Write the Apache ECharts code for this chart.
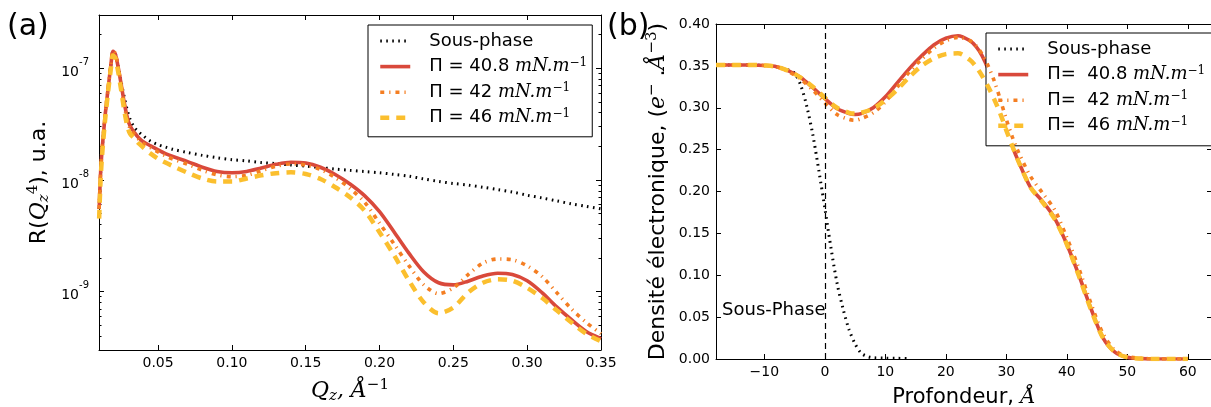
<!DOCTYPE html>
<html><head><meta charset="utf-8">
<script src="https://cdn.jsdelivr.net/npm/echarts@6/dist/echarts.min.js"></script>
<style>html,body{margin:0;padding:0;background:#fff}#c{width:1211px;height:407px}</style>
</head><body><div id="c"></div><script>
// ---------- Panel (a): reflectivity R*Qz^4 (log scale) ----------
const qz = [0.0101,0.011,0.012,0.014,0.016,0.018,0.0195,0.021,0.023,0.025,0.027,0.029,0.031,0.034,0.037,0.04,0.045,0.05,0.055,0.06,0.07,0.08,0.09,0.10,0.11,0.12,0.13,0.14,0.15,0.16,0.17,0.18,0.19,0.20,0.21,0.22,0.23,0.24,0.25,0.26,0.27,0.28,0.29,0.30,0.31,0.32,0.33,0.34,0.35];
const rSousPhase = [5.5e-9,1.1e-8,1.8e-8,3.6e-8,6.3e-8,1.05e-7,1.42e-7,1.36e-7,1.05e-7,7.6e-8,5.6e-8,4.3e-8,3.5e-8,2.95e-8,2.68e-8,2.48e-8,2.22e-8,2.07e-8,1.97e-8,1.88e-8,1.76e-8,1.66e-8,1.58e-8,1.52e-8,1.48e-8,1.43e-8,1.4e-8,1.36e-8,1.33e-8,1.29e-8,1.25e-8,1.22e-8,1.19e-8,1.16e-8,1.12e-8,1.08e-8,1.02e-8,9.7e-9,9.3e-9,9.0e-9,8.6e-9,8.2e-9,7.8e-9,7.3e-9,6.9e-9,6.5e-9,6.1e-9,5.8e-9,5.5e-9];
const r408 = [5.5e-9,1.1e-8,1.8e-8,3.6e-8,6.3e-8,1.05e-7,1.42e-7,1.35e-7,1.02e-7,7.2e-8,5.0e-8,3.7e-8,3.05e-8,2.65e-8,2.38e-8,2.2e-8,2.02e-8,1.86e-8,1.72e-8,1.62e-8,1.46e-8,1.3e-8,1.19e-8,1.16e-8,1.19e-8,1.28e-8,1.38e-8,1.44e-8,1.42e-8,1.3e-8,1.12e-8,9.2e-9,7.2e-9,5.2e-9,3.4e-9,2.2e-9,1.5e-9,1.2e-9,1.15e-9,1.24e-9,1.38e-9,1.46e-9,1.42e-9,1.25e-9,9.8e-10,7.3e-10,5.6e-10,4.4e-10,3.8e-10];
const r42 = [5.5e-9,1.1e-8,1.8e-8,3.6e-8,6.3e-8,1.05e-7,1.44e-7,1.36e-7,1.02e-7,7.0e-8,4.8e-8,3.5e-8,2.9e-8,2.55e-8,2.3e-8,2.12e-8,1.94e-8,1.78e-8,1.64e-8,1.54e-8,1.38e-8,1.22e-8,1.11e-8,1.07e-8,1.1e-8,1.21e-8,1.33e-8,1.39e-8,1.36e-8,1.24e-8,1.05e-8,8.4e-9,6.3e-9,4.1e-9,2.65e-9,1.7e-9,1.15e-9,9.6e-10,1.08e-9,1.42e-9,1.8e-9,1.96e-9,1.93e-9,1.7e-9,1.37e-9,9.8e-10,7.0e-10,5.3e-10,4.2e-10];
const r46 = [4.5e-9,9.5e-9,1.6e-8,3.3e-8,5.9e-8,9.8e-8,1.3e-7,1.24e-7,9.3e-8,6.4e-8,4.3e-8,3.1e-8,2.6e-8,2.35e-8,2.12e-8,1.95e-8,1.72e-8,1.55e-8,1.43e-8,1.33e-8,1.16e-8,1.03e-8,9.7e-9,9.7e-9,1.03e-8,1.1e-8,1.15e-8,1.17e-8,1.13e-8,1.02e-8,8.6e-9,7.0e-9,5.3e-9,3.4e-9,2.1e-9,1.25e-9,8.0e-10,6.4e-10,7.2e-10,9.8e-10,1.2e-9,1.29e-9,1.25e-9,1.08e-9,8.8e-10,6.8e-10,5.3e-10,4.2e-10,3.6e-10];
const qTicks = [0.05,0.10,0.15,0.20,0.25,0.30,0.35];
const logMajor = [-9,-8,-7];

// ---------- Panel (b): electron density profile ----------
const depthSousPhase = [-18,-15,-12,-10,-8,-7,-6,-5,-4,-3,-2,-1,0,1,2,3,4,5,6,7,8,10,12,14];
const rhoSousPhase = [0.351,0.351,0.351,0.3505,0.349,0.347,0.345,0.341,0.327,0.302,0.268,0.225,0.180,0.133,0.091,0.060,0.035,0.018,0.007,0.003,0.0015,0.001,0.0008,0.0005];
const depth = [-18,-15,-12,-10,-8,-6,-4,-2,0,2,4,5,6,8,10,12,14,16,18,20,22,24,25,26,27,28,29,30,31,32,34,36,38,40,42,44,46,48,50,52,55,60];
const rho408 = [0.351,0.351,0.351,0.3505,0.349,0.344,0.336,0.324,0.311,0.299,0.293,0.292,0.293,0.300,0.313,0.330,0.347,0.362,0.375,0.383,0.386,0.380,0.373,0.362,0.346,0.326,0.302,0.276,0.254,0.236,0.205,0.188,0.168,0.137,0.100,0.060,0.025,0.008,0.002,0.0005,0,0];
const rho42 = [0.351,0.351,0.351,0.3505,0.349,0.343,0.334,0.321,0.306,0.292,0.286,0.285,0.287,0.294,0.307,0.325,0.343,0.358,0.371,0.380,0.384,0.380,0.374,0.364,0.350,0.332,0.310,0.286,0.265,0.247,0.218,0.198,0.178,0.145,0.108,0.066,0.030,0.010,0.003,0.001,0,0];
const rho46 = [0.351,0.351,0.351,0.3505,0.349,0.344,0.336,0.325,0.312,0.300,0.294,0.293,0.294,0.299,0.309,0.322,0.337,0.350,0.359,0.364,0.365,0.357,0.349,0.338,0.325,0.310,0.293,0.273,0.254,0.236,0.205,0.187,0.167,0.137,0.099,0.059,0.025,0.008,0.002,0.0005,0,0];
const depthTicks = [-10,0,10,20,30,40,50,60];
const sousPhaseNote = {text: 'Sous-Phase', depth: -17, rho: 0.05};

// ---------- building ----------
const SANS = 'DejaVu Sans', SERIF = 'DejaVu Serif';
const C_BLACK = '#000000', C_RED = '#d9493b', C_ORANGE = '#f47e22', C_YELLOW = '#fbbf2e';
const yLogMin = Math.log10(3e-10), yLogMax = Math.log10(3e-7);
const minorLog = [];
for (let n = -10; n <= -7; n++) for (let k = 2; k <= 9; k++) {
  const v = n + Math.log10(k);
  if (v > yLogMin && v < yLogMax) minorLog.push(v);
}
const logPairs = (xs, ys) => xs.map((x, i) => [x, Math.log10(ys[i])]);
const pairs = (xs, ys) => xs.map((x, i) => [x, ys[i]]);

const axLine = {show: true, onZero: false, lineStyle: {color: '#000', width: 1}};
const tk = (vals, len) => ({show: true, inside: true, length: len, customValues: vals, lineStyle: {color: '#000', width: 1}});
const noSplit = {show: false};
const lab = {color: '#000', fontSize: 14, fontFamily: SANS};
function nameStyle(fs) {
  return {color: '#000', fontSize: fs, fontFamily: SANS, lineHeight: fs + 4,
    rich: {
      i: {fontFamily: SERIF, fontStyle: 'italic', fontSize: fs, lineHeight: fs + 4, color: '#000'},
      sp: {fontSize: fs, lineHeight: fs + 4, color: '#000'},
      sub: {fontFamily: SERIF, fontStyle: 'italic', fontSize: Math.round(fs * 0.7), lineHeight: 10, verticalAlign: 'bottom', color: '#000'},
      sup: {fontFamily: SERIF, fontSize: Math.round(fs * 0.7), lineHeight: 10, verticalAlign: 'top', color: '#000'}
    }};
}

const styles = {
  sous: {color: C_BLACK, width: 3, type: [1.6, 4.4]},
  p408: {color: C_RED, width: 3.6, type: 'solid'},
  p42: {color: C_ORANGE, width: 3.6, type: [4, 5, 1.2, 5]},
  p46: {color: C_YELLOW, width: 4.5, type: [9, 7]}
};
function line(name, xi, yi, data, st, z) {
  return {type: 'line', name, xAxisIndex: xi, yAxisIndex: yi, data, symbol: 'none', smooth: 0.3,
    lineStyle: {color: st.color, width: st.width, type: st.type}, itemStyle: {color: st.color},
    z, animation: false, silent: true};
}

const legendRich = {
  g: {width: 14},
  i: {fontFamily: SERIF, fontStyle: 'italic', fontSize: 18, lineHeight: 20, color: '#000'},
  s: {fontFamily: SERIF, fontSize: 12, lineHeight: 8, verticalAlign: 'top', color: '#000'}
};
const legendText = {
  a0: '{g| }Sous-phase', a1: '{g| }\u03A0 = 40.8 {i|mN.m}{s|\u22121}', a2: '{g| }\u03A0 = 42 {i|mN.m}{s|\u22121}', a3: '{g| }\u03A0 = 46 {i|mN.m}{s|\u22121}',
  b0: '{g| }Sous-phase', b1: '{g| }\u03A0=  40.8 {i|mN.m}{s|\u22121}', b2: '{g| }\u03A0=  42 {i|mN.m}{s|\u22121}', b3: '{g| }\u03A0=  46 {i|mN.m}{s|\u22121}'
};
function legend(names, left, top, pad) {
  return {data: names, orient: 'vertical', left, top, padding: pad, itemGap: 5.6, itemWidth: 30, itemHeight: 14,
    borderColor: '#000', borderWidth: 1, borderRadius: 0, backgroundColor: '#fff', selectedMode: false,
    lineStyle: {width: 'inherit'},
    itemStyle: {color: 'rgba(0,0,0,0)', borderColor: 'rgba(0,0,0,0)', borderWidth: 0, opacity: 0},
    formatter: n => legendText[n],
    textStyle: {color: '#000', fontSize: 18, fontFamily: SANS, lineHeight: 20, rich: legendRich}};
}

const option = {
  animation: false,
  backgroundColor: '#fff',
  grid: [
    {left: 99, top: 15, width: 502, height: 335, containLabel: false, outerBoundsMode: 'none'},
    {left: 716, top: 24, width: 496, height: 335, containLabel: false, outerBoundsMode: 'none'}
  ],
  xAxis: [
    {gridIndex: 0, type: 'value', min: 0.01, max: 0.35, position: 'bottom', axisLine: axLine, axisTick: tk(qTicks, 5),
     axisLabel: Object.assign({}, lab, {margin: 6, customValues: qTicks, formatter: v => v.toFixed(2)}), splitLine: noSplit,
     name: '{i|Q}{sub|z}{i|, \u00C5}{sup|\u22121}', nameLocation: 'middle', nameGap: 28, nameTextStyle: nameStyle(22)},
    {gridIndex: 0, type: 'value', min: 0.01, max: 0.35, position: 'top', axisLine: axLine, axisTick: tk(qTicks, 5), axisLabel: {show: false}, splitLine: noSplit},
    {gridIndex: 1, type: 'value', min: -18, max: 64, position: 'bottom', axisLine: axLine, axisTick: tk(depthTicks, 5),
     axisLabel: Object.assign({}, lab, {margin: 6, customValues: depthTicks, formatter: v => v < 0 ? '\u2212' + Math.abs(v) : String(v)}), splitLine: noSplit,
     name: 'Profondeur, {i|\u00C5}', nameLocation: 'middle', nameGap: 26, nameTextStyle: nameStyle(21)},
    {gridIndex: 1, type: 'value', min: -18, max: 64, position: 'top', axisLine: axLine, axisTick: tk(depthTicks, 5), axisLabel: {show: false}, splitLine: noSplit}
  ],
  yAxis: [
    {gridIndex: 0, type: 'value', min: yLogMin, max: yLogMax, position: 'left', axisLine: axLine, axisTick: tk(logMajor, 5),
     axisLabel: {customValues: logMajor, margin: 10, color: '#000', formatter: v => '{b|10}{s|' + Math.round(v) + '}',
       rich: {b: {fontSize: 14, fontFamily: SANS, lineHeight: 22, verticalAlign: 'bottom', color: '#000'},
              s: {fontSize: 10, fontFamily: SANS, lineHeight: 10, verticalAlign: 'top', color: '#000'}}},
     splitLine: noSplit,
     name: 'R({i|Q}{sub|z}{sup|4}), u.a.', nameLocation: 'middle', nameGap: 47, nameTextStyle: nameStyle(22)},
    {gridIndex: 0, type: 'value', min: yLogMin, max: yLogMax, position: 'left', axisLine: {show: false}, axisTick: tk(minorLog, 2.5), axisLabel: {show: false}, splitLine: noSplit},
    {gridIndex: 0, type: 'value', min: yLogMin, max: yLogMax, position: 'right', axisLine: axLine, axisTick: tk(logMajor, 5), axisLabel: {show: false}, splitLine: noSplit},
    {gridIndex: 0, type: 'value', min: yLogMin, max: yLogMax, position: 'right', axisLine: {show: false}, axisTick: tk(minorLog, 2.5), axisLabel: {show: false}, splitLine: noSplit},
    {gridIndex: 1, type: 'value', min: 0, max: 0.4, interval: 0.05, position: 'left', axisLine: axLine,
     axisTick: {show: true, inside: true, length: 5, lineStyle: {color: '#000'}},
     axisLabel: Object.assign({}, lab, {margin: 6, formatter: v => v.toFixed(2)}), splitLine: noSplit,
     name: 'Densit\u00E9 \u00E9lectronique, ({i|e}{sup|\u2212}{sp| .}{i|\u00C5}{sup|\u22123})', nameLocation: 'middle', nameGap: 45, nameTextStyle: nameStyle(22)},
    {gridIndex: 1, type: 'value', min: 0, max: 0.4, interval: 0.05, position: 'right', axisLine: axLine,
     axisTick: {show: true, inside: true, length: 5, lineStyle: {color: '#000'}}, axisLabel: {show: false}, splitLine: noSplit}
  ],
  legend: [
    legend(['a0', 'a1', 'a2', 'a3'], 368, 25, [6, 5, 9, 10]),
    legend(['b0', 'b1', 'b2', 'b3'], 986, 33, [6, 10, 10, 10])
  ],
  series: [
    line('a0', 0, 0, logPairs(qz, rSousPhase), styles.sous, 2),
    line('a1', 0, 0, logPairs(qz, r408), styles.p408, 3),
    line('a2', 0, 0, logPairs(qz, r42), styles.p42, 4),
    line('a3', 0, 0, logPairs(qz, r46), styles.p46, 5),
    line('b0', 2, 4, pairs(depthSousPhase, rhoSousPhase), styles.sous, 2),
    Object.assign(line('b1', 2, 4, pairs(depth, rho408), styles.p408, 3), {
      markLine: {silent: true, symbol: ['none', 'none'], label: {show: false}, animation: false,
        lineStyle: {color: '#000', width: 1.2, type: [6, 4]}, data: [{xAxis: 0}], z: 6}
    }),
    line('b2', 2, 4, pairs(depth, rho42), styles.p42, 4),
    line('b3', 2, 4, pairs(depth, rho46), styles.p46, 5)
  ],
  graphic: [
    {id: 'pa', type: 'text', left: 7, top: 12, style: {text: '(a)', font: '30px "DejaVu Sans"', fill: '#000'}},
    {id: 'pb', type: 'text', left: 607, top: 12, style: {text: '(b)', font: '30px "DejaVu Sans"', fill: '#000'}}
  ]
};
const chart = echarts.init(document.getElementById('c'), null, {renderer: 'canvas'});
chart.setOption(option);
const pt = chart.convertToPixel({xAxisIndex: 2, yAxisIndex: 4}, [sousPhaseNote.depth, sousPhaseNote.rho]);
chart.setOption({graphic: [
  {id: 'note', type: 'text', x: pt[0], y: pt[1] - 6.3, z: 10,
   style: {text: sousPhaseNote.text, font: '18px "DejaVu Sans"', fill: '#000', align: 'left', verticalAlign: 'middle'}}
]});
</script></body></html>
